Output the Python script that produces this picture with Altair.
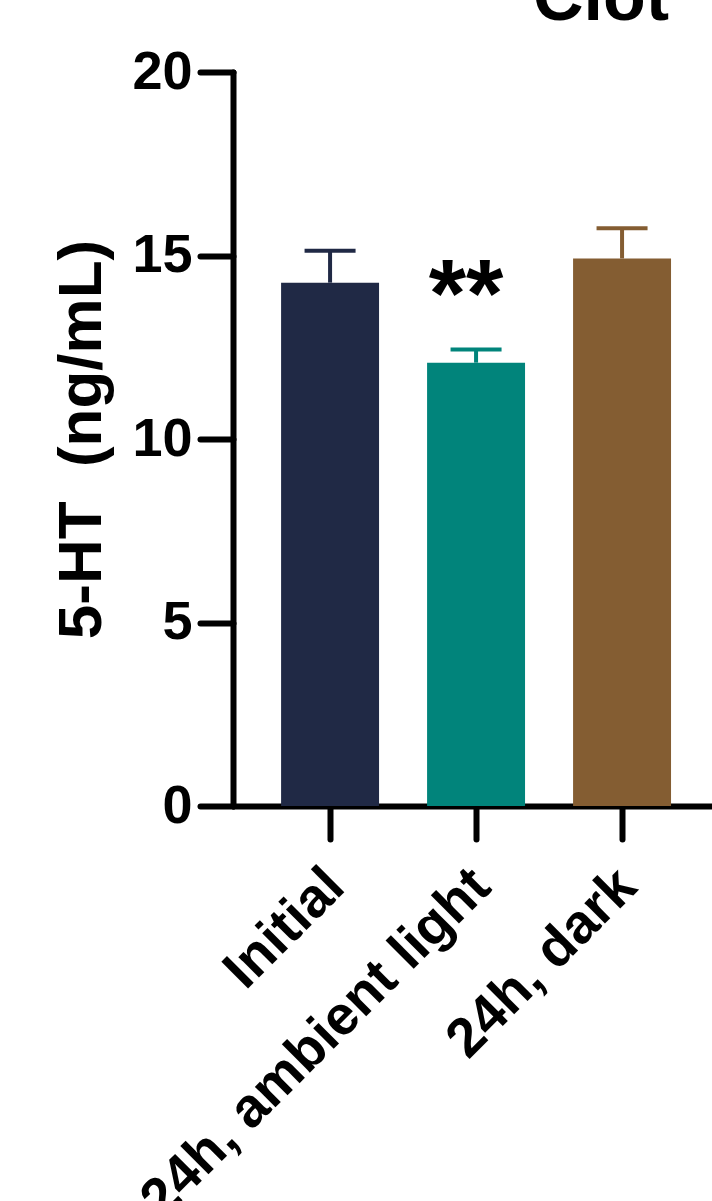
import altair as alt
import pandas as pd

# Group means with their SEM (5-HT, ng/mL)
groups = ["Initial", "24h, ambient light", "24h, dark"]
means = [14.26, 12.08, 14.92]
sems = [0.87, 0.36, 0.82]
colors = ["#202945", "#01847b", "#845d32"]
signif = ["", "**", ""]
panel_title = ["Clot"]

df = pd.DataFrame({"group": groups, "mean": means, "sem": sems, "sig": signif})
df["upper"] = df["mean"] + df["sem"]

FONT = "Liberation Sans"

x = alt.X(
    "group:N",
    sort=groups,
    title=None,
    scale=alt.Scale(paddingInner=0.329, paddingOuter=0.305, align=0.54),
    axis=alt.Axis(
        labelAngle=-45, labelAlign="right", labelBaseline="middle",
        labelFont=FONT, labelFontSize=55, labelFontWeight="bold", labelColor="black",
        labelPadding=38, labelOffset=5, labelLimit=1000,
        tickSize=33, tickWidth=6, tickColor="black", tickCap="round",
        domainWidth=6, domainColor="black", domainCap="round",
    ),
)
color = alt.Color("group:N", sort=groups,
                  scale=alt.Scale(domain=groups, range=colors), legend=None)
yscale = alt.Scale(domain=[0, 20], nice=False, zero=True)
YTITLE = "5-HT\u00a0\u00a0(ng/mL)"
yaxis = alt.Axis(
    values=[0, 5, 10, 15, 20], grid=False,
    title=YTITLE, titleFont=FONT, titleFontSize=62,
    titleFontWeight="bold", titleColor="black", titlePadding=18, titleLimit=1000,
    labelFont=FONT, labelFontSize=54, labelFontWeight="bold", labelColor="black",
    labelPadding=8,
    tickSize=33, tickWidth=6, tickColor="black", tickCap="round",
    domainWidth=6, domainColor="black", domainCap="round",
)


def yenc(field):
    return alt.Y(field, scale=yscale, axis=yaxis, title=YTITLE)


bars = alt.Chart(df).mark_bar().encode(x=x, y=yenc("mean:Q"), color=color)

err = alt.Chart(df).mark_rule(strokeWidth=4).encode(
    x=x, y=yenc("mean:Q"), y2="upper:Q", color=color,
)

caps = alt.Chart(df).mark_tick(thickness=4, size=51, opacity=1).encode(
    x=x, y=yenc("upper:Q"), color=color,
)

stars = alt.Chart(df).mark_text(
    font=FONT, fontSize=96, fontWeight="bold", color="black",
    baseline="alphabetic", dy=-23, dx=-10,
).encode(x=x, y=yenc("upper:Q"), text="sig:N")

# panel heading, sitting above the plot area
heading = alt.Chart(pd.DataFrame({"t": panel_title})).mark_text(
    font=FONT, fontSize=70, fontWeight="bold", color="black",
    align="center", baseline="alphabetic",
).encode(x=alt.value(368), y=alt.value(-52), text="t:N")

chart = (
    alt.layer(bars, err, caps, stars, heading)
    .properties(
        width=479,
        height=734,
        autosize=alt.AutoSizeParams(type="none"),
        padding={"left": 233, "top": 72, "right": 0, "bottom": 395},
        background="white",
    )
    .configure_view(strokeWidth=0, stroke="transparent")
)

chart.save("out.html", embed_options={"renderer": "svg", "actions": False})
